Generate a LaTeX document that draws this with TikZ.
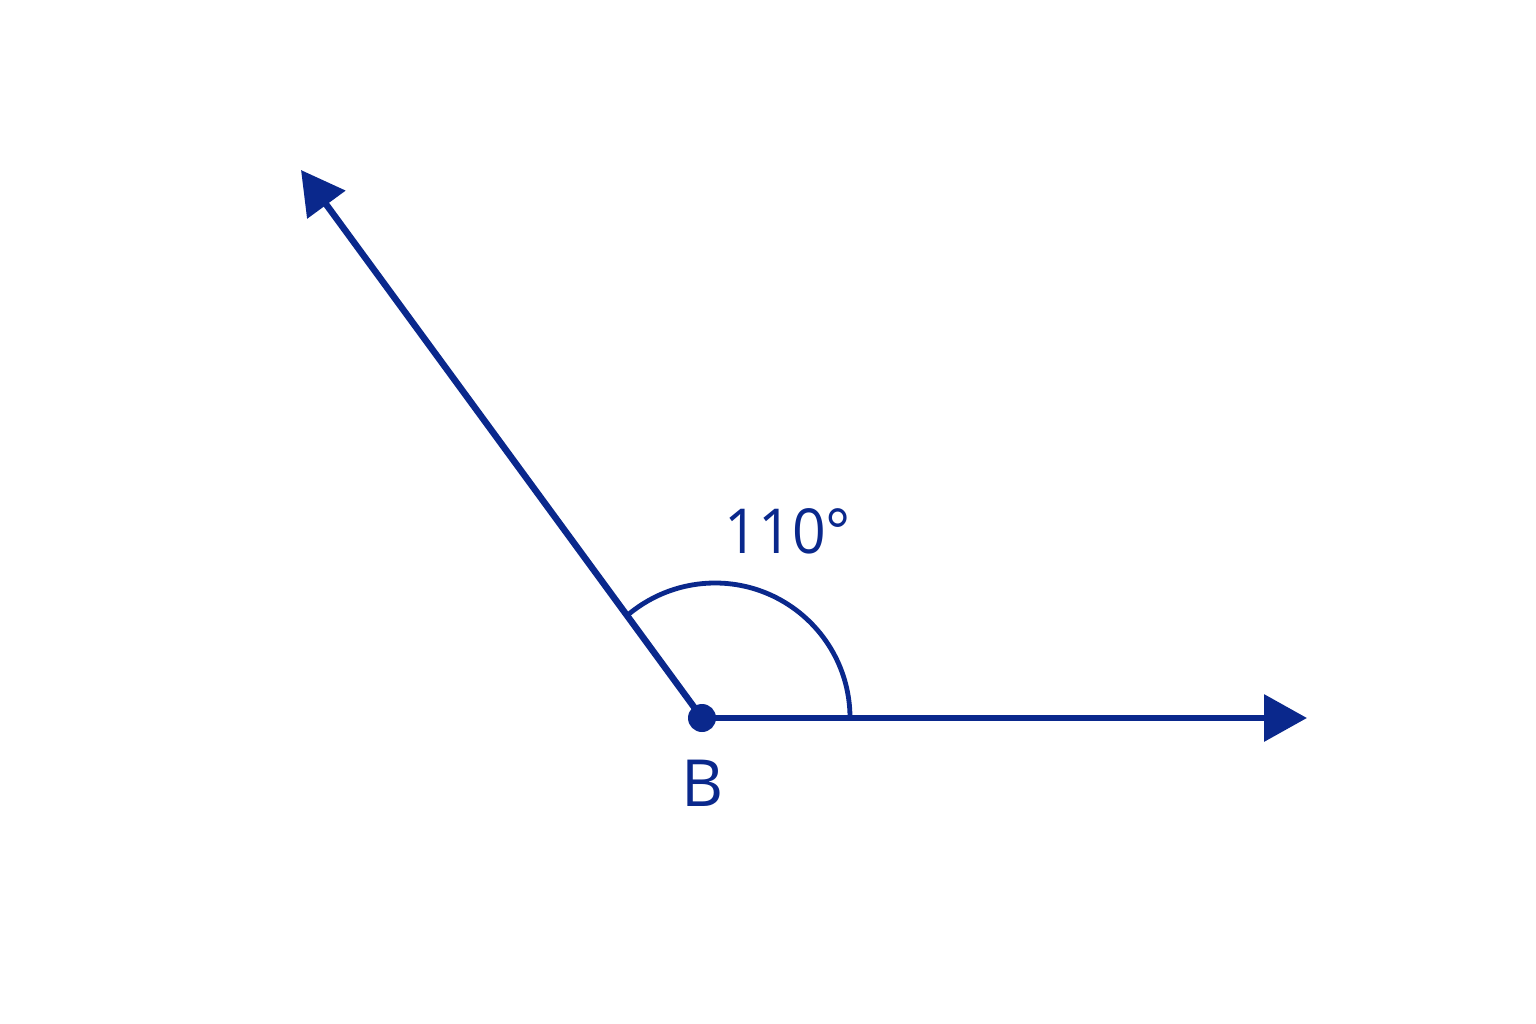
\documentclass[tikz,border=0pt]{standalone}
\usepackage{fontspec}
\setmainfont{Open Sans}
\usetikzlibrary{arrows.meta}
\definecolor{inkblue}{RGB}{10,40,140}
\tikzset{
  ray/.style={draw=inkblue, line width=6.5pt, -{Triangle[length=43pt,width=46pt]}},
  arcline/.style={draw=inkblue, line width=4.8pt},
  dotnode/.style={circle, fill=inkblue, inner sep=0pt, minimum size=28pt},
  lbl/.style={text=inkblue, inner sep=0pt}
}
\begin{document}
\begin{tikzpicture}[x=1pt,y=-1pt]
  \useasboundingbox[fill=white] (0,0) rectangle (1536,1024);
  \coordinate (B) at (702,718);
  \coordinate (A) at (301,170);
  \coordinate (C) at (1307,718);
  \coordinate (arcstart) at (850,718);
  \draw[ray] (B) -- (A);
  \draw[ray] (B) -- (C);
  \draw[arcline] (arcstart) arc[start angle=0, end angle=-130, radius=135];
  \node[dotnode] (Bdot) at (B) {};
  \node[lbl, font=\fontsize{65}{78}\selectfont] (Blabel) at (703,783) {B};
  \node[lbl, font=\fontsize{62}{74}\selectfont, xscale=0.95] (anglelabel) at (788,531) {110°};
\end{tikzpicture}
\end{document}
